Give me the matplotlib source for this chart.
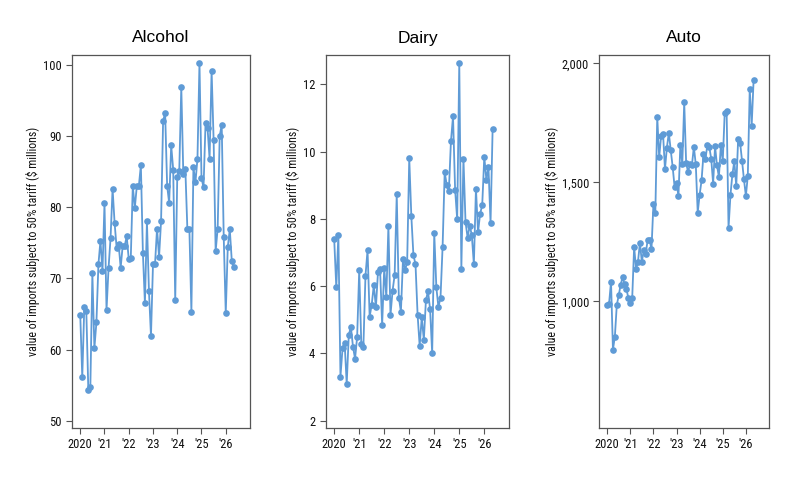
import numpy as np
import matplotlib
matplotlib.use("Agg")
import matplotlib.pyplot as plt
from matplotlib import font_manager
from matplotlib.ticker import FuncFormatter

# monthly values, Jan 2020 .. May 2026
alcohol = [64.9, 56.1, 66.0, 65.4, 54.3, 54.8, 70.7, 60.2, 63.8, 72.0, 75.3, 71.0,
           80.6, 65.5, 71.4, 75.7, 82.6, 77.8, 74.3, 74.8, 71.5, 74.6, 74.6, 75.9,
           72.7, 72.8, 83.0, 79.9, 83.0, 83.0, 85.9, 73.6, 66.5, 78.0, 68.2, 61.9,
           72.0, 72.0, 77.0, 73.0, 78.1, 92.1, 93.3, 83.0, 80.6, 88.7, 85.3, 66.9,
           84.2, 85.1, 96.9, 84.7, 85.4, 77.0, 77.0, 65.3, 85.6, 83.5, 86.8, 100.3,
           84.1, 82.8, 91.8, 91.1, 86.8, 99.2, 89.4, 73.8, 77.0, 90.0, 91.6, 75.8,
           65.1, 74.4, 76.9, 72.4, 71.6]

dairy = [7.39, 5.96, 7.52, 3.31, 4.15, 4.32, 3.09, 4.55, 4.79, 4.20, 3.84, 4.48,
         6.47, 4.28, 4.20, 6.31, 7.07, 5.09, 5.45, 6.03, 5.37, 6.41, 6.50, 4.84,
         6.55, 5.67, 7.78, 5.14, 5.86, 6.33, 8.73, 5.66, 5.24, 6.80, 6.48, 6.71,
         9.80, 8.08, 6.92, 6.65, 5.15, 4.22, 5.07, 4.40, 5.58, 5.85, 5.31, 4.00,
         7.57, 5.96, 5.37, 5.66, 7.17, 9.39, 9.00, 8.82, 10.30, 11.05, 8.87, 7.98,
         12.63, 6.52, 9.79, 7.90, 7.44, 7.80, 7.52, 6.65, 8.90, 7.60, 8.15, 8.40,
         9.84, 9.16, 9.54, 7.87, 10.67]

auto = [986, 991, 1083, 797, 852, 985, 1025, 1070, 1101, 1073, 1052, 1014,
        993, 1014, 1229, 1136, 1166, 1246, 1166, 1215, 1201, 1256, 1258, 1219,
        1407, 1372, 1775, 1605, 1694, 1705, 1555, 1646, 1708, 1635, 1565, 1480,
        1497, 1443, 1659, 1577, 1836, 1580, 1544, 1577, 1572, 1649, 1575, 1373,
        1448, 1508, 1620, 1597, 1656, 1649, 1600, 1495, 1652, 1571, 1523, 1655,
        1590, 1790, 1799, 1308, 1448, 1534, 1589, 1483, 1684, 1667, 1591, 1512,
        1443, 1527, 1892, 1737, 1928]

titles = ["Alcohol", "Dairy", "Auto"]
year_ticks = [2020, 2021, 2022, 2023, 2024, 2025, 2026]
year_labels = ["2020", "'21", "'22", "'23", "'24", "'25", "'26"]
ylabel = "value of imports subject to 50% tariff ($ millions)"

# a narrow face looks closest; use the first one that is installed
names = set(f.name for f in font_manager.fontManager.ttflist)
narrow = None
for n in ["Liberation Sans Narrow", "Arial Narrow", "DejaVu Sans Condensed",
          "Roboto Condensed", "Open Sans Condensed", "Noto Sans Condensed"]:
    if n in names:
        narrow = n
        break
if narrow:
    label_font, tick_size, lab_size = narrow, 9, 8.6
else:
    label_font, tick_size, lab_size = "Liberation Sans", 8, 7.5
plt.rcParams["font.family"] = [label_font, "DejaVu Sans"]

months = 2020 + np.arange(len(alcohol)) / 12.0

fig = plt.figure(figsize=(8, 4.8), dpi=100)
W, H = 800.0, 480.0
# left, right edges in pixels, same top/bottom for all
boxes = [(72, 250), (325.7, 509.3), (599.3, 769)]
top, bottom = 55, 428
ylims = [(48.97, 101.4), (1.78, 12.87), (468, 2035)]
yticks = [[50, 60, 70, 80, 90, 100], [2, 4, 6, 8, 10, 12], [1000, 1500, 2000]]
series = [alcohol, dairy, auto]

for i in range(3):
    l, r = boxes[i]
    ax = fig.add_axes([l / W, 1 - bottom / H, (r - l) / W, (bottom - top) / H])
    ax.plot(months, series[i], color="#5f9bd6", linewidth=1.3,
            marker="o", markersize=4.8, markeredgewidth=0)
    ax.set_xlim(2019.66, 2027.0)
    ax.set_ylim(ylims[i])
    ax.set_yticks(yticks[i])
    ax.set_xticks(year_ticks)
    ax.set_xticklabels(year_labels)
    if i == 2:
        ax.yaxis.set_major_formatter(FuncFormatter(lambda v, p: "{:,.0f}".format(v)))
    ax.tick_params(direction="out", length=4, width=0.8, color="#555555",
                   labelsize=tick_size, labelcolor="#111111")
    for s in ax.spines.values():
        s.set_color("#555555")
        s.set_linewidth(0.9)
    ax.set_title(titles[i], fontsize=12.5, family="Liberation Sans", pad=9)
    ax.set_ylabel(ylabel, fontsize=lab_size, color="#111111", labelpad=2)

fig.savefig("out.png", dpi=100)
